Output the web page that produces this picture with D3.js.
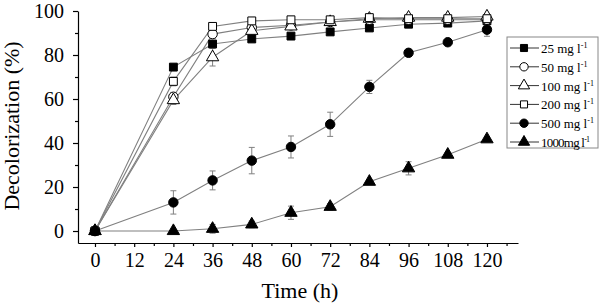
<!DOCTYPE html>
<html>
<head>
  <style>
    body { margin: 0; background: #fff; }
    svg text { font-family: "Liberation Serif", "Times New Roman", serif; fill: #000; }
  </style>
  <title>Decolorization vs Time</title>
</head>
<body>
  <script src="https://cdn.jsdelivr.net/npm/d3@7"></script>
  <svg width="600" height="308"></svg>
  <script>
    // data
    var times = [0, 24, 36, 48, 60, 72, 84, 96, 108, 120];
    var labels = ["25 mg l", "50 mg l", "100 mg l", "200 mg l", "500 mg l", "1000mg l"];
    var s25   = [0, 74.5, 85, 87.3, 88.6, 90.5, 92.3, 94, 94.5, 95.5];
    var s50   = [0, 61, 89.5, 92.5, 93.5, 95, 96, 96, 96, 96];
    var s100  = [0, 59.5, 79, 91, 93, 95, 96.5, 97, 97, 97.5];
    var s200  = [0, 68, 93, 95.5, 96, 96, 97, 96.5, 96.5, 96.5];
    var s500  = [0, 13, 23, 32, 38.2, 48.5, 65.5, 81, 85.8, 91.5];
    var s1000 = [0, 0, 1, 3, 8.3, 11, 22.4, 28.5, 34.7, 41.7];
    var e25   = [0, 1, 1, 1, 0.5, 0.5, 0.5, 0.5, 0.5, 0.5];
    var e50   = [0, 2, 2, 1.5, 1, 1, 1, 1, 1, 1];
    var e100  = [0, 2, 4, 2, 1.5, 1.5, 1, 1, 1, 1];
    var e200  = [0, 2, 1.5, 1, 1, 1, 1, 1, 1, 1];
    var e500  = [1, 5.3, 4.3, 6, 5, 5.5, 3, 1, 1, 3];
    var e1000 = [0, 0.5, 2, 1.5, 3, 1.5, 1, 3, 1, 1];
    var xTicks = [0, 12, 24, 36, 48, 60, 72, 84, 96, 108, 120];
    var yTicks = [0, 20, 40, 60, 80, 100];

    var series = [
      {name: labels[0], vals: s25,   err: e25,   sym: "square",   fill: "#000"},
      {name: labels[1], vals: s50,   err: e50,   sym: "circle",   fill: "#fff"},
      {name: labels[2], vals: s100,  err: e100,  sym: "triangle", fill: "#fff"},
      {name: labels[3], vals: s200,  err: e200,  sym: "square",   fill: "#fff"},
      {name: labels[4], vals: s500,  err: e500,  sym: "circle",   fill: "#000"},
      {name: labels[5], vals: s1000, err: e1000, sym: "triangle", fill: "#000"}
    ];

    var serif = "Liberation Serif";
    var svg = d3.select("svg");
    var x = d3.scaleLinear().domain([-5.2, 129.5]).range([78, 518]),
        y = d3.scaleLinear().domain([-5.45, 100]).range([243, 11]);

    var symbols = {
      square: d3.symbol().type(d3.symbolSquare).size(62),
      circle: d3.symbol().type(d3.symbolCircle).size(70),
      triangle: d3.symbol().type(d3.symbolTriangle).size(66)
    };

    // axes
    var xAxis = svg.append("g")
      .attr("transform", "translate(0,243)")
      .call(d3.axisBottom(x).tickValues(xTicks).tickSize(4).tickPadding(6).tickSizeOuter(0));
    xAxis.attr("font-family", serif).selectAll("text").style("font-size", "20px");
    svg.append("g")
      .attr("transform", "translate(0,243)")
      .call(d3.axisBottom(x).tickValues(d3.range(6, 130, 12)).tickSize(3).tickFormat(""))
      .select(".domain").remove();

    var yAxis = svg.append("g")
      .attr("transform", "translate(78,0)")
      .call(d3.axisLeft(y).tickValues(yTicks).tickSize(5).tickPadding(9).tickSizeOuter(0));
    yAxis.attr("font-family", serif).selectAll("text").style("font-size", "20px").attr("dy", "0.34em");
    svg.append("g")
      .attr("transform", "translate(78,0)")
      .call(d3.axisLeft(y).tickValues([10, 30, 50, 70, 90]).tickSize(3).tickFormat(""))
      .select(".domain").remove();

    svg.selectAll(".domain, .tick line").attr("stroke", "#000").attr("stroke-width", 1.2);

    // axis labels
    svg.append("text")
      .attr("x", 300).attr("y", 298)
      .attr("text-anchor", "middle")
      .style("font-size", "22px")
      .text("Time (h)");
    svg.append("text")
      .attr("transform", "translate(19,126) rotate(-90)")
      .attr("text-anchor", "middle")
      .style("font-size", "22px")
      .text("Decolorization (%)");

    var line = d3.line()
      .x(function(d, i) { return x(times[i]); })
      .y(function(d) { return y(d); });

    // lines
    series.forEach(function(s) {
      svg.append("path")
        .datum(s.vals)
        .attr("d", line)
        .attr("fill", "none")
        .attr("stroke", "#808080")
        .attr("stroke-width", 1.1);
    });

    // error bars
    series.forEach(function(s) {
      var g = svg.append("g").attr("stroke", "#808080").attr("stroke-width", 1);
      s.vals.forEach(function(v, i) {
        if (s.err[i] < 0.8) return;
        var cx = x(times[i]);
        g.append("line").attr("x1", cx).attr("x2", cx).attr("y1", y(v - s.err[i])).attr("y2", y(v + s.err[i]));
        g.append("line").attr("x1", cx - 3).attr("x2", cx + 3).attr("y1", y(v - s.err[i])).attr("y2", y(v - s.err[i]));
        g.append("line").attr("x1", cx - 3).attr("x2", cx + 3).attr("y1", y(v + s.err[i])).attr("y2", y(v + s.err[i]));
      });
    });

    // markers
    series.forEach(function(s) {
      svg.append("g").selectAll("path")
        .data(s.vals)
        .enter().append("path")
        .attr("transform", function(d, i) { return "translate(" + x(times[i]) + "," + y(d) + ")"; })
        .attr("d", symbols[s.sym])
        .attr("fill", s.fill)
        .attr("stroke", "#000")
        .attr("stroke-width", 1);
    });

    // legend
    var legSym = {
      square: d3.symbol().type(d3.symbolSquare).size(50),
      circle: d3.symbol().type(d3.symbolCircle).size(55),
      triangle: d3.symbol().type(d3.symbolTriangle).size(55)
    };
    var leg = svg.append("g").attr("transform", "translate(507,37)");
    leg.append("rect")
      .attr("width", 91).attr("height", 111)
      .attr("fill", "#fff").attr("stroke", "#888").attr("stroke-width", 1);
    series.forEach(function(s, i) {
      var ly = 11 + i * 18.8;
      leg.append("line").attr("x1", 3).attr("x2", 32).attr("y1", ly).attr("y2", ly)
        .attr("stroke", "#333").attr("stroke-width", 1);
      leg.append("path")
        .attr("transform", "translate(17," + ly + ")")
        .attr("d", legSym[s.sym])
        .attr("fill", s.fill).attr("stroke", "#000");
      var t = leg.append("text")
        .attr("x", 34).attr("y", ly + 5)
        .attr("textLength", i === 5 ? 49 : null)
        .style("font-size", "13px")
        .text(s.name);
      t.append("tspan").attr("dy", -5).style("font-size", "8px").text("-1");
    });
  </script>
</body>
</html>
